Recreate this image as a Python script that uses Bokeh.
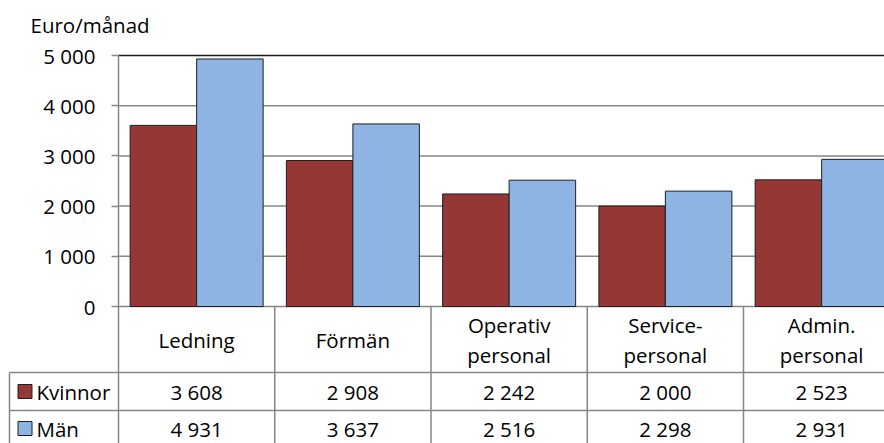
from bokeh.plotting import figure
from bokeh.models import Range1d, FixedTicker, CustomJSTickFormatter
from bokeh.core.properties import value
from bokeh.embed import file_html
from bokeh.resources import INLINE

# ---- data ----
categories = ["Ledning", "Förmän", "Operativ\npersonal", "Service-\npersonal", "Admin.\npersonal"]
series_names = ["Kvinnor", "Män"]
kvinnor = [3608, 2908, 2242, 2000, 2523]
man = [4931, 3637, 2516, 2298, 2931]
y_ticks = [0, 1000, 2000, 3000, 4000, 5000]
y_title = "Euro/månad"

# ---- layout constants (pixels) ----
W, H = 884, 443
AXIS_X = 118          # value axis position from canvas left
CAT_W = 156.25        # width of one category in px
TOP_PX = 55           # px position of max tick
ZERO_PX = 306         # px position of 0
YMAX = y_ticks[-1]
ROW1 = 372            # bottom of header row
ROW2 = 410            # bottom of Kvinnor row
LEFT_BORDER = 9
FONT = value("Open Sans")
FS = "20.5px"
RED = "#953735"
BLUE = "#8EB4E3"
GRID = "#868686"
EDGE = "#1f1f1f"

ypp = YMAX / (ZERO_PX - TOP_PX)
y_start = -(H - ZERO_PX) * ypp
y_end = YMAX + TOP_PX * ypp
x_start = -AXIS_X / CAT_W
x_end = (W - AXIS_X) / CAT_W

p = figure(width=W, height=H, output_backend="svg", toolbar_location=None,
           x_range=Range1d(x_start, x_end), y_range=Range1d(y_start, y_end),
           min_border=0, x_axis_location=None)
p.extra_x_ranges = {"px": Range1d(0, W)}
p.extra_y_ranges = {"px": Range1d(H, 0)}
p.outline_line_color = None
p.xgrid.visible = False
p.ygrid.visible = False
p.background_fill_color = "white"

# value axis
ax = p.yaxis[0]
ax.fixed_location = 0
ax.ticker = FixedTicker(ticks=y_ticks)
ax.bounds = (0, YMAX)
ax.formatter = CustomJSTickFormatter(code="return tick.toFixed(0).replace(/\\B(?=(\\d{3})+(?!\\d))/g, ' ');")
ax.axis_line_color = GRID
ax.axis_line_width = 1.5
ax.major_tick_line_color = GRID
ax.major_tick_line_width = 1.5
ax.major_tick_in = 0
ax.major_tick_out = 7
ax.minor_tick_line_color = None
ax.major_label_standoff = 16
ax.major_label_text_font = "Open Sans"
ax.major_label_text_font_size = FS
ax.major_label_text_color = "black"

# gridlines (0 line is category axis)
n = len(y_ticks)
grid_colors = [GRID] * (n - 1) + ["#1a1a1a"]
p.segment(x0=[0] * n, x1=[x_end] * n, y0=y_ticks, y1=y_ticks,
          line_color=grid_colors, line_width=1.5)

# bars
nc = len(categories)
BW = 0.4256
xs = [i + 0.5 for i in range(nc)]
p.vbar(x=[x - BW / 2 for x in xs], top=kvinnor, bottom=0, width=BW,
       fill_color=RED, line_color=EDGE, line_width=1)
p.vbar(x=[x + BW / 2 for x in xs], top=man, bottom=0, width=BW,
       fill_color=BLUE, line_color=EDGE, line_width=1)

# ---- data table ----
bounds = list(range(nc))
p.segment(x0=bounds, x1=bounds, y0=[ZERO_PX] * nc, y1=[H] * nc,
          y_range_name="px", line_color=GRID, line_width=1.5)
p.segment(x0=[LEFT_BORDER] * 2, x1=[W, W], y0=[ROW1, ROW2], y1=[ROW1, ROW2],
          x_range_name="px", y_range_name="px", line_color=GRID, line_width=1.5)
p.segment(x0=[LEFT_BORDER], x1=[LEFT_BORDER], y0=[ROW1], y1=[H],
          x_range_name="px", y_range_name="px", line_color=GRID, line_width=1.5)

def fmt(v):
    return f"{v:,}".replace(",", " ")

hdr_y = (ZERO_PX + ROW1) / 2
r1_y = (ROW1 + ROW2) / 2
r2_y = ROW2 + (ROW2 - ROW1) / 2 - 1
LINE_GAP = 15

# header labels: split multi-line labels into separate lines
hx, hy, ht = [], [], []
for x, lab in zip(xs, categories):
    parts = lab.split("\n")
    k = len(parts)
    for j, part in enumerate(parts):
        hx.append(x)
        hy.append(hdr_y + (j - (k - 1) / 2) * 2 * LINE_GAP)
        ht.append(part)
p.text(x=hx, y=hy, text=ht, y_range_name="px",
       text_align="center", text_baseline="middle", text_font=FONT,
       text_font_size=FS, text_color="black")
p.text(x=xs, y=[r1_y] * nc, text=[fmt(v) for v in kvinnor], y_range_name="px",
       text_align="center", text_baseline="middle", text_font=FONT,
       text_font_size=FS, text_color="black")
p.text(x=xs, y=[r2_y] * nc, text=[fmt(v) for v in man], y_range_name="px",
       text_align="center", text_baseline="middle", text_font=FONT,
       text_font_size=FS, text_color="black")

# legend keys in table
p.scatter(x=[24.5, 24.5], y=[r1_y, r2_y], marker="square", size=14,
          fill_color=[RED, BLUE], line_color=EDGE, line_width=1,
          x_range_name="px", y_range_name="px")
p.text(x=[36, 36], y=[r1_y, r2_y], text=series_names,
       x_range_name="px", y_range_name="px",
       text_align="left", text_baseline="middle", text_font=FONT,
       text_font_size=FS, text_color="black")

# axis title
p.text(x=[30], y=[24], text=[y_title], x_range_name="px", y_range_name="px",
       text_align="left", text_baseline="middle", text_font=FONT,
       text_font_size=FS, text_color="black")

open("out.html", "w").write(file_html(p, INLINE))
